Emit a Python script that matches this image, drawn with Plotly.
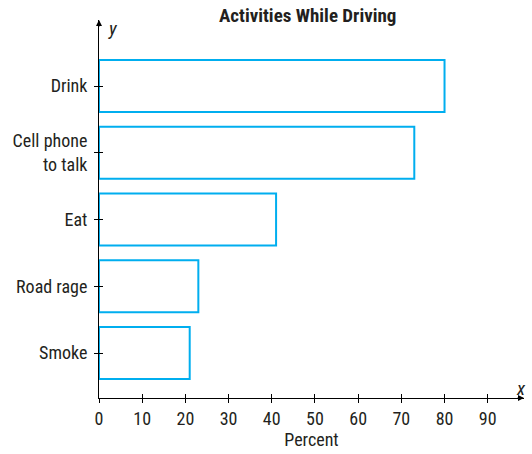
import plotly.graph_objects as go

# data (percent of drivers)
activities = ["Smoke", "Road rage", "Eat", "Cell phone<br>to talk", "Drink"]
percent = [21, 23, 41, 73, 80]
x_ticks = [0, 10, 20, 30, 40, 50, 60, 70, 80, 90]

FONT = "Liberation Sans Narrow, Arial Narrow, Roboto Condensed, Liberation Sans, Arial"
CYAN = "#00AEEF"
pos = list(range(len(activities)))

fig = go.Figure()
fig.add_trace(go.Bar(
    x=percent, y=pos, orientation="h", width=0.78,
    marker=dict(color="white", line=dict(color=CYAN, width=2)),
    showlegend=False, hoverinfo="x",
))
# invisible trace on the overlay axes so they render
fig.add_trace(go.Scatter(x=[None], y=[None], xaxis="x2", yaxis="y2", showlegend=False))

xr = [0, 98.4]
yr = [-0.674, 4.99]
fig.update_layout(
    width=532, height=454,
    margin=dict(l=99, r=8, t=20, b=56, autoexpand=False),
    paper_bgcolor="white", plot_bgcolor="white",
    font=dict(family=FONT, size=18, color="#231f20"),
    xaxis=dict(range=xr, tickvals=x_ticks, showgrid=False, zeroline=False,
               showline=True, linecolor="black", linewidth=1,
               ticks="outside", ticklen=4, tickcolor="black",
               title=dict(text="Percent", font=dict(size=18), standoff=2)),
    yaxis=dict(range=yr, tickvals=pos, ticktext=activities, showgrid=False,
               zeroline=False, showline=True, linecolor="black", linewidth=1,
               ticks="outside", ticklen=4, tickcolor="black", ticklabelstandoff=3),
    xaxis2=dict(range=xr, overlaying="x", anchor="y2", tickvals=x_ticks,
                showticklabels=False, showgrid=False, zeroline=False,
                ticks="inside", ticklen=4, tickcolor="black"),
    yaxis2=dict(range=yr, overlaying="y", anchor="x2", tickvals=pos,
                showticklabels=False, showgrid=False, zeroline=False,
                ticks="inside", ticklen=4, tickcolor="black"),
    annotations=[
        dict(text="<b>Activities While Driving</b>", xref="paper", yref="paper",
             x=0.49, y=1.0, yshift=-9, xanchor="center", yanchor="bottom",
             showarrow=False, font=dict(size=19)),
        # axis arrowheads
        dict(xref="paper", yref="paper", x=1.0, y=0, ax=-8, ay=0,
             showarrow=True, arrowhead=2, arrowsize=1, arrowwidth=1.2,
             arrowcolor="black", text=""),
        dict(xref="paper", yref="paper", x=0, y=1.0, ax=0, ay=8,
             showarrow=True, arrowhead=2, arrowsize=1, arrowwidth=1.2,
             arrowcolor="black", text=""),
        dict(text="<i>y</i>", xref="paper", yref="paper", x=0, y=1.0,
             xshift=7, yshift=5, showarrow=False, font=dict(size=19)),
        dict(text="<i>x</i>", xref="paper", yref="paper", x=1.0, y=0,
             xshift=4, yshift=-4, showarrow=False, font=dict(size=19)),
    ],
)

# drop the browser's default body margin so the figure sits at the page corner
fig.write_html("out.html", config={"displayModeBar": False},
               post_script="document.body.style.margin='0';")
